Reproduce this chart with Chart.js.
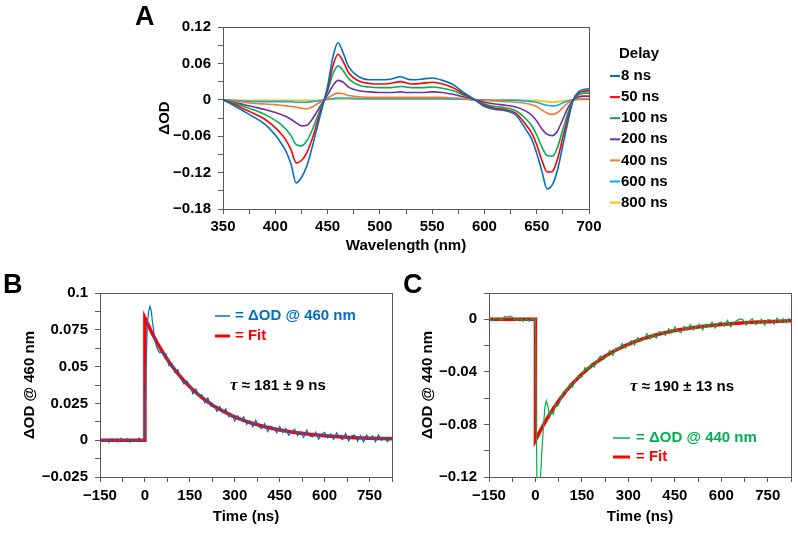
<!DOCTYPE html>
<html>
<head>
<meta charset="utf-8">
<title>Transient absorption</title>
<script src="https://cdn.jsdelivr.net/npm/chart.js@4.4.1/dist/chart.umd.min.js"></script>
<style>
  body { margin: 0; background: #fff; width: 798px; height: 533px; position: relative; overflow: hidden; }
  canvas { position: absolute; }
</style>
</head>
<body>
<canvas id="chartA" width="798" height="258" style="left:0;top:0"></canvas>
<canvas id="chartB" width="400" height="275" style="left:0;top:258px"></canvas>
<canvas id="chartC" width="398" height="275" style="left:400px;top:258px"></canvas>
<script>
// ---- Panel A : spectra at several delays ----
const wavelengths = [350,360,370,380,390,400,405,410,415,420,425,430,435,440,445,450,455,460,465,470,
  480,490,500,510,520,525,530,540,550,560,570,580,590,600,610,620,630,640,645,650,655,660,665,670,675,680,685,690,695,700];
const delays = ['8 ns', '50 ns', '100 ns', '200 ns', '400 ns', '600 ns', '800 ns'];
const delayColors = ['#0070C0', '#FF0000', '#00B050', '#7030A0', '#ED7D31', '#00B0F0', '#FFC000'];

const od8 = [0,-0.009,-0.019,-0.029,-0.04,-0.058,-0.07,-0.084,-0.106,-0.137,-0.128,-0.11,-0.08,-0.046,-0.012,0.022,0.07,0.094,0.077,0.055,
  0.038,0.033,0.033,0.034,0.038,0.035,0.033,0.034,0.036,0.032,0.025,0.012,0.001,-0.011,-0.016,-0.018,-0.025,-0.05,-0.064,-0.088,-0.118,-0.147,-0.14,-0.115,-0.075,-0.035,0,0.013,0.017,0.018];
const od50 = [0,-0.007,-0.015,-0.023,-0.032,-0.046,-0.055,-0.066,-0.082,-0.104,-0.1,-0.088,-0.066,-0.038,-0.01,0.018,0.055,0.075,0.063,0.045,
  0.031,0.027,0.026,0.027,0.03,0.028,0.026,0.027,0.029,0.026,0.02,0.01,0.001,-0.009,-0.014,-0.016,-0.022,-0.042,-0.054,-0.074,-0.1,-0.119,-0.118,-0.097,-0.062,-0.028,0,0.011,0.014,0.015];
const od100 = [0,-0.005,-0.011,-0.017,-0.024,-0.034,-0.04,-0.048,-0.059,-0.074,-0.076,-0.068,-0.051,-0.029,-0.007,0.014,0.042,0.056,0.048,0.035,
  0.024,0.021,0.02,0.02,0.022,0.021,0.02,0.02,0.021,0.019,0.015,0.008,0.001,-0.007,-0.011,-0.013,-0.018,-0.032,-0.042,-0.058,-0.078,-0.092,-0.093,-0.078,-0.049,-0.021,0,0.008,0.011,0.011];
const od200 = [0,-0.004,-0.008,-0.012,-0.016,-0.021,-0.024,-0.027,-0.032,-0.038,-0.043,-0.042,-0.033,-0.019,-0.005,0.008,0.023,0.032,0.029,0.021,
  0.015,0.013,0.012,0.012,0.013,0.012,0.012,0.012,0.013,0.012,0.009,0.005,0.001,-0.004,-0.007,-0.009,-0.012,-0.019,-0.025,-0.035,-0.048,-0.057,-0.059,-0.051,-0.032,-0.013,0,0.005,0.006,0.006];
const od400 = [0,-0.002,-0.004,-0.006,-0.007,-0.008,-0.009,-0.01,-0.011,-0.012,-0.014,-0.015,-0.012,-0.007,-0.002,0.003,0.008,0.011,0.01,0.007,
  0.005,0.004,0.004,0.004,0.004,0.004,0.004,0.004,0.004,0.004,0.003,0.002,0,-0.001,-0.002,-0.003,-0.004,-0.006,-0.008,-0.011,-0.017,-0.022,-0.024,-0.021,-0.013,-0.005,0,0.002,0.002,0.002];
const od600 = [0,-0.001,-0.002,-0.003,-0.003,-0.003,-0.003,-0.003,-0.003,-0.004,-0.004,-0.004,-0.003,-0.002,-0.001,0.001,0.002,0.003,0.003,0.003,
  0.002,0.002,0.002,0.002,0.002,0.002,0.002,0.002,0.002,0.002,0.001,0.001,0,0,-0.001,-0.001,-0.001,-0.002,-0.003,-0.004,-0.007,-0.009,-0.01,-0.009,-0.005,-0.002,0,0.001,0.001,0.001];
const od800 = [0,-0.001,-0.001,-0.001,-0.001,-0.001,-0.001,-0.001,-0.001,-0.001,-0.001,-0.001,-0.001,-0.001,0,0,0.001,0.001,0.001,0.001,
  0.001,0.001,0.001,0.001,0.001,0.001,0.001,0.001,0.001,0.001,0.001,0.001,0,0,0,0,0,-0.001,-0.001,-0.001,-0.002,-0.003,-0.004,-0.003,-0.002,-0.001,0,0,0,0];
const spectra = [od8, od50, od100, od200, od400, od600, od800];

const xTicksA = [350, 400, 450, 500, 550, 600, 650, 700];
const xLabelsA = ['350', '400', '450', '500', '550', '600', '650', '700'];
const yTicksA = [-0.18, -0.12, -0.06, 0, 0.06, 0.12];
const yLabelsA = ['\u22120.18', '\u22120.12', '\u22120.06', '0', '0.06', '0.12'];

// ---- Panel B : kinetics at 460 nm ----
const timeB = [-150,-140,-130,-120,-110,-100,-90,-80,-70,-60,-50,-40,-30,-20,-10,-3,0,4,8,13,17,21,26,32,38,44,50,56,62,
  70,80,90,100,110,120,130,140,150,160,170,180,190,200,210,220,230,240,250,260,270,280,290,300,310,320,330,340,350,360,
  370,380,390,400,410,420,430,440,450,460,470,480,490,500,510,520,530,540,550,560,570,580,590,600,610,620,630,640,650,
  660,670,680,690,700,710,720,730,740,750,760,770,780,790,800,810,820];
const odB = [0.0012,-0.0009,0.0006,-0.0014,0.0011,-0.0003,-0.0012,0.0013,-0.0006,0.0009,-0.0013,0.0004,-0.0008,0.0014,-0.0005,0.0007,0.002,0.05,0.08,0.088,0.091,0.088,0.079,0.07,0.064,0.0612,0.0594,0.0606,0.0578,
  0.0586,0.0507,0.0518,0.0459,0.048,0.0417,0.0381,0.0402,0.0369,0.0314,0.0348,0.0299,0.0308,0.0254,0.0287,0.0231,0.0237,0.0196,0.0229,0.0186,
  0.0213,0.0159,0.0176,0.0131,0.0165,0.0136,0.0158,0.0107,0.0131,0.0091,0.0136,0.0093,0.0079,0.0112,0.0058,0.0095,0.0084,0.0051,0.0094,0.0052,
  0.008,0.0033,0.0058,0.0075,0.0031,0.0059,0.002,0.0069,0.003,0.0022,0.0056,0.0007,0.004,0.0053,0.0016,0.0043,0.0005,0.005,0.0016,
  0.0004,0.0045,-0.0005,0.0028,0.0036,-0.0006,0.003,-0.0013,0.0035,0.0008,0.003,-0.0011,0.0036,-0.0001,0.0019,-0.001,0.0024];
const fitTimeB = [-150,0,0,20,40,60,80,100,120,140,160,180,200,230,260,290,320,350,400,450,500,550,600,650,700,750,825];
const fitB = [0,0,0.083,0.0743,0.0665,0.0596,0.0533,0.0478,0.0428,0.0383,0.0343,0.0307,0.0275,0.0233,0.0198,0.0167,0.0142,0.012,0.0091,0.0069,0.0053,0.004,0.003,0.0023,0.0017,0.0013,0.0009];

const timeTicks = [-150, 0, 150, 300, 450, 600, 750];
const timeLabels = ['\u2212150', '0', '150', '300', '450', '600', '750'];
const yTicksB = [-0.025, 0, 0.025, 0.05, 0.075, 0.1];
const yLabelsB = ['\u22120.025', '0', '0.025', '0.05', '0.075', '0.1'];

// ---- Panel C : kinetics at 440 nm ----
const timeC = [-150,-140,-130,-120,-110,-100,-90,-80,-70,-60,-50,-40,-30,-20,-10,-3,0,2,5,10,15,22,30,35,40,46,52,58,65,72,
  80,90,100,110,120,130,140,150,160,170,180,190,200,210,220,230,240,250,260,270,280,290,300,310,320,330,340,350,360,
  370,380,390,400,410,420,430,440,450,460,470,480,490,500,510,520,530,540,550,560,570,580,590,600,610,620,630,640,650,
  660,670,680,690,700,710,720,730,740,750,760,770,780,790,800,810,820];
const odC = [0.0009,-0.0012,0.0006,0.0011,-0.0009,0.0021,0.0016,0.0024,0.0008,-0.0011,0.0013,-0.0016,0.0002,-0.0014,0.0009,-0.0008,0,-0.06,-0.13,-0.135,-0.125,-0.095,-0.068,-0.062,-0.066,-0.0745,-0.0705,-0.0722,-0.0645,-0.066,
  -0.0622,-0.0548,-0.0552,-0.0494,-0.0516,-0.0451,-0.0434,-0.044,-0.0368,-0.039,-0.0338,-0.0362,-0.0313,-0.0279,-0.0306,-0.0279,-0.0237,-0.0275,-0.0219,
  -0.0233,-0.0184,-0.022,-0.0186,-0.0162,-0.0196,-0.014,-0.0167,-0.0153,-0.0109,-0.015,-0.0113,-0.0144,-0.0095,-0.0103,-0.0122,-0.0072,-0.0106,-0.0058,
  -0.0091,-0.0101,-0.0054,-0.0082,-0.004,-0.0081,-0.0053,-0.0036,-0.0081,-0.0037,-0.0054,-0.0021,-0.0066,-0.003,-0.002,-0.0053,-0.0008,-0.0058,-0.0027,-0.001,
  0.0003,-0.0003,-0.0045,-0.0016,0.0005,-0.0039,-0.0029,0.0002,-0.0045,-0.0002,-0.0005,-0.0036,0.001,-0.0025,0.0004,-0.0027,0.0009];
const fitTimeC = [-150,0,0,20,40,60,80,100,120,140,160,180,200,230,260,290,320,350,400,450,500,550,600,650,700,750,825];
const fitC = [0,0,-0.092,-0.0828,-0.0745,-0.0671,-0.0604,-0.0543,-0.0489,-0.044,-0.0396,-0.0357,-0.0321,-0.0274,-0.0234,-0.02,-0.0171,-0.0146,-0.0112,-0.0086,-0.0066,-0.0051,-0.0039,-0.003,-0.0023,-0.0018,-0.0012];

const yTicksC = [-0.12, -0.08, -0.04, 0];
const yLabelsC = ['\u22120.12', '\u22120.08', '\u22120.04', '0'];

const FONT = '"Liberation Sans", Arial, sans-serif';
const AXIS = '#595959';
Chart.defaults.font.family = FONT;
Chart.defaults.font.size = 15;
Chart.defaults.font.weight = 'bold';
Chart.defaults.color = '#000';

// labelled ticks plus a minor tick between each pair (and at max if needed)
function withMinor(major, max) {
  const all = [];
  for (let i = 0; i < major.length; i++) {
    all.push(major[i]);
    if (i < major.length - 1) all.push((major[i] + major[i + 1]) / 2);
  }
  if (max > major[major.length - 1] + 1e-9) all.push(max);
  return all;
}

function makeAxis(o) {
  return {
    type: 'linear',
    min: o.min,
    max: o.max,
    afterBuildTicks: s => { s.ticks = withMinor(o.major, o.max).map(v => ({ value: v })); },
    afterFit: s => { if (s.isHorizontal()) s.height = o.size; else s.width = o.size; },
    ticks: {
      padding: o.pad,
      autoSkip: false,
      maxRotation: 0,
      callback: v => {
        const i = o.major.findIndex(m => Math.abs(m - v) < 1e-9);
        return i < 0 ? '' : o.labels[i];
      }
    },
    grid: { drawOnChartArea: false, drawTicks: true, tickLength: 5, color: AXIS, lineWidth: 1 },
    border: { display: true, color: AXIS, width: 1 },
    title: { display: true, text: o.title, padding: o.titlePad, font: { size: 15, weight: 'bold' } }
  };
}

// box around the plot area, panel letter and free text
const decorations = {
  id: 'decorations',
  beforeDatasetsDraw(chart) {
    const { ctx, chartArea: a } = chart;
    ctx.save();
    ctx.strokeStyle = AXIS;
    ctx.lineWidth = 1;
    ctx.strokeRect(Math.round(a.left) + 0.5, Math.round(a.top) + 0.5, Math.round(a.right - a.left), Math.round(a.bottom - a.top));
    ctx.restore();
  },
  afterDraw(chart, args, opts) {
    const ctx = chart.ctx;
    ctx.save();
    ctx.fillStyle = '#000';
    ctx.textBaseline = 'alphabetic';
    ctx.font = 'bold 27px ' + FONT;
    ctx.fillText(opts.letter, opts.letterX, opts.letterY);
    ctx.textBaseline = 'middle';
    if (opts.tau) {
      ctx.font = 'italic bold 17px "Liberation Serif", serif';
      ctx.fillText('\u03C4', opts.tauX, opts.tauY);
      const w = ctx.measureText('\u03C4').width;
      ctx.font = 'bold 15px ' + FONT;
      ctx.fillText(opts.tau, opts.tauX + w, opts.tauY);
    }
    (opts.keys || []).forEach(k => {
      ctx.strokeStyle = k.color;
      ctx.lineWidth = k.width;
      ctx.beginPath();
      ctx.moveTo(k.x1, k.y);
      ctx.lineTo(k.x2, k.y);
      ctx.stroke();
      ctx.fillStyle = k.textColor;
      ctx.font = 'bold 15px ' + FONT;
      ctx.fillText(k.text, k.tx, k.y);
    });
    if (opts.delayLegend) {
      const L = opts.delayLegend;
      ctx.fillStyle = '#000';
      ctx.font = 'bold 15px ' + FONT;
      ctx.fillText('Delay', L.x + 9, L.titleY);
      chart.data.datasets.forEach((ds, i) => {
        const y = L.y0 + i * L.dy;
        ctx.strokeStyle = ds.borderColor;
        ctx.lineWidth = 2;
        ctx.beginPath();
        ctx.moveTo(L.x, y);
        ctx.lineTo(L.x + 10, y);
        ctx.stroke();
        ctx.fillStyle = '#000';
        ctx.fillText(ds.label, L.x + 11, y);
      });
    }
    ctx.restore();
  }
};

function xy(xs, ys) {
  return xs.map((x, i) => ({ x: x, y: ys[i] }));
}

// Panel A
new Chart(document.getElementById('chartA'), {
  type: 'line',
  data: {
    datasets: delays.map((d, i) => ({
      label: d,
      data: xy(wavelengths, spectra[i]),
      borderColor: delayColors[i],
      backgroundColor: delayColors[i],
      borderWidth: 1.6,
      pointRadius: 0,
      cubicInterpolationMode: 'monotone'
    }))
  },
  options: {
    responsive: false,
    animation: false,
    layout: { padding: { left: 130, top: 27, right: 209, bottom: 0 } },
    plugins: {
      legend: { display: false },
      tooltip: { enabled: false },
      decorations: {
        letter: 'A', letterX: 135, letterY: 25,
        delayLegend: { x: 610, titleY: 54, y0: 76, dy: 21.1 }
      }
    },
    scales: {
      x: makeAxis({ min: 350, max: 700, major: xTicksA, labels: xLabelsA, size: 49, pad: 4,
        title: 'Wavelength (nm)', titlePad: { top: 0, bottom: 3 } }),
      y: makeAxis({ min: -0.18, max: 0.12, major: yTicksA, labels: yLabelsA, size: 93, pad: 7,
        title: '\u0394OD', titlePad: { top: 26, bottom: 0 } })
    }
  },
  plugins: [decorations]
});

// Panel B
new Chart(document.getElementById('chartB'), {
  type: 'line',
  data: {
    datasets: [
      { label: '\u0394OD @ 460 nm', data: xy(timeB, odB), borderColor: '#0070C0', borderWidth: 1.2, pointRadius: 0 },
      { label: 'Fit', data: xy(fitTimeB, fitB), borderColor: '#FF0000', borderWidth: 3.5, pointRadius: 0 }
    ]
  },
  options: {
    responsive: false,
    animation: false,
    layout: { padding: { left: 0, top: 35, right: 8, bottom: 0 } },
    plugins: {
      legend: { display: false },
      tooltip: { enabled: false },
      decorations: {
        letter: 'B', letterX: 3, letterY: 35,
        tau: ' \u2248 181 \u00B1 9 ns', tauX: 230, tauY: 128,
        keys: [
          { x1: 215, x2: 230, y: 58, color: '#0070C0', width: 1.5, text: '= \u0394OD @ 460 nm', textColor: '#0070C0', tx: 235 },
          { x1: 215, x2: 230, y: 78, color: '#FF0000', width: 3, text: '= Fit', textColor: '#FF0000', tx: 235 }
        ]
      }
    },
    scales: {
      x: makeAxis({ min: -150, max: 825, major: timeTicks, labels: timeLabels, size: 56, pad: 5,
        title: 'Time (ns)', titlePad: { top: 0, bottom: 7 } }),
      y: makeAxis({ min: -0.025, max: 0.1, major: yTicksB, labels: yLabelsB, size: 100, pad: 7,
        title: '\u0394OD @ 460 nm', titlePad: { top: 21, bottom: 0 } })
    }
  },
  plugins: [decorations]
});

// Panel C
new Chart(document.getElementById('chartC'), {
  type: 'line',
  data: {
    datasets: [
      { label: '\u0394OD @ 440 nm', data: xy(timeC, odC), borderColor: '#00B050', borderWidth: 1.2, pointRadius: 0 },
      { label: 'Fit', data: xy(fitTimeC, fitC), borderColor: '#FF0000', borderWidth: 3.5, pointRadius: 0 }
    ]
  },
  options: {
    responsive: false,
    animation: false,
    layout: { padding: { left: 0, top: 35, right: 7, bottom: 0 } },
    plugins: {
      legend: { display: false },
      tooltip: { enabled: false },
      decorations: {
        letter: 'C', letterX: 3, letterY: 35,
        tau: ' \u2248 190 \u00B1 13 ns', tauX: 230, tauY: 129,
        keys: [
          { x1: 213, x2: 230, y: 180, color: '#00B050', width: 1.5, text: '= \u0394OD @ 440 nm', textColor: '#00B050', tx: 236 },
          { x1: 213, x2: 230, y: 199, color: '#FF0000', width: 3, text: '= Fit', textColor: '#FF0000', tx: 236 }
        ]
      }
    },
    scales: {
      x: makeAxis({ min: -150, max: 825, major: timeTicks, labels: timeLabels, size: 56, pad: 5,
        title: 'Time (ns)', titlePad: { top: 0, bottom: 7 } }),
      y: makeAxis({ min: -0.12, max: 0.02, major: yTicksC, labels: yLabelsC, size: 89, pad: 7,
        title: '\u0394OD @ 440 nm', titlePad: { top: 19, bottom: 0 } })
    }
  },
  plugins: [decorations]
});
</script>
</body>
</html>
